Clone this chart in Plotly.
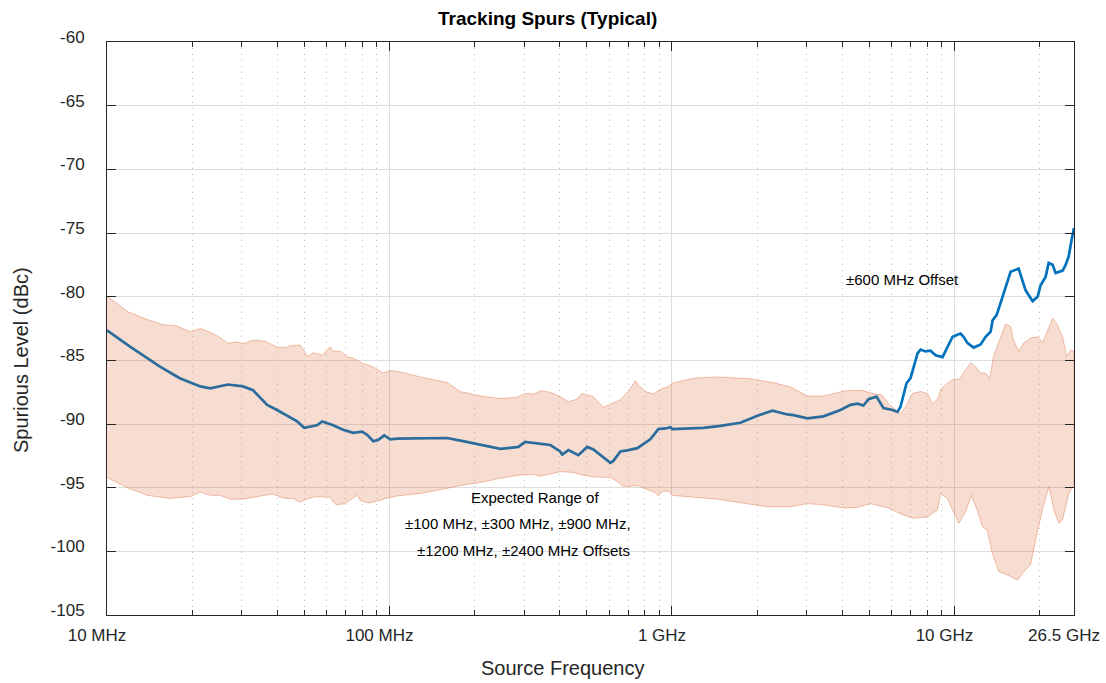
import plotly.graph_objects as go

# ---- data (frequency in MHz, level in dBc) ----
line_freq = [10, 12.1, 15.4, 18.1, 21.4, 23.2, 26.8, 30.3, 32.9, 36.9, 40.0, 43.4, 47.1, 49.9,
             55.4, 57.8, 61.7, 63.2, 68.5, 74.4, 80.0, 83.4, 87.6, 91.2, 95.8, 100.6, 106.5,
             128.5, 160, 182, 210, 247, 286, 302, 371, 402, 409, 430, 466, 501, 527, 605, 620,
             657, 701, 754, 838, 895, 948, 987, 1003, 1292, 1484, 1747, 2007, 2268, 2564, 2692,
             3017, 3439, 3950, 4285, 4537, 4764, 4963, 5297, 5608, 6035, 6286, 6443, 6766, 6991,
             7402, 7586, 7902, 8231, 8574, 9077, 9846, 10510, 10770, 11130, 11690, 12380, 12890,
             13430, 13650, 14100, 14810, 15800, 16870, 17860, 18910, 19700, 20180, 21020, 21550,
             22260, 22810, 24150, 24750, 25370, 25980, 26500]
line_level = [-82.65, -83.95, -85.5, -86.4, -87.05, -87.2, -86.9, -87.05, -87.35, -88.5, -88.9,
              -89.35, -89.8, -90.3, -90.1, -89.8, -90.0, -90.1, -90.45, -90.7, -90.6, -90.85,
              -91.35, -91.25, -90.9, -91.2, -91.15, -91.1, -91.1, -91.35, -91.65, -91.95, -91.8,
              -91.4, -91.65, -92.15, -92.4, -92.05, -92.45, -91.8, -92.0, -93.05, -92.9, -92.15,
              -92.05, -91.9, -91.2, -90.4, -90.35, -90.25, -90.4, -90.3, -90.15, -89.9, -89.35,
              -88.95, -89.25, -89.3, -89.55, -89.4, -88.9, -88.5, -88.4, -88.55, -88.05, -87.85,
              -88.75, -88.9, -89.05, -88.65, -86.8, -86.4, -84.45, -84.15, -84.3, -84.25, -84.6,
              -84.75, -83.15, -82.9, -83.15, -83.65, -84.0, -83.75, -83.15, -82.75, -81.85,
              -81.45, -80.0, -78.05, -77.8, -79.5, -80.35, -80.0, -79.1, -78.45, -77.35, -77.5,
              -78.15, -77.95, -77.5, -76.85, -75.55, -74.6]

band_upper_freq = [10, 11.9, 13.9, 15.8, 17.7, 19.7, 21.4, 23.2, 24.7, 26.8, 28.9, 30.3, 32.9,
                   36.3, 40.0, 42.7, 44.5, 48.3, 51.5, 53.7, 57.8, 61.7, 63.2, 66.9, 71.4, 73.8,
                   80.7, 85.4, 90.5, 95.0, 100.6, 109.1, 128.5, 160, 178, 210, 247, 283, 302,
                   323, 342, 371, 402, 430, 461, 480, 527, 572, 605, 657, 701, 742, 760, 805,
                   859, 895, 925, 963, 1003, 1191, 1448, 1895, 2287, 2627, 3017, 3439, 4081,
                   4688, 5212, 5520, 5843, 6443, 6711, 7106, 7586, 8031, 8360, 8711, 8929, 9170,
                   9846, 10366, 10950, 11400, 11880, 12380, 12890, 13320, 13750, 14330, 15170,
                   15800, 16190, 16870, 17570, 18600, 19700, 20520, 21370, 22260, 23000, 24150,
                   24960, 25780, 26500]
band_upper = [-79.95, -81.2, -81.8, -82.2, -82.3, -82.75, -82.5, -82.8, -83.1, -83.65, -83.55,
              -83.7, -83.4, -83.5, -83.95, -84.0, -83.85, -83.8, -84.7, -84.4, -84.6, -83.95,
              -84.3, -84.3, -84.75, -84.8, -85.25, -85.4, -85.7, -86.0, -85.8, -85.9, -86.3,
              -86.75, -87.45, -87.8, -88.0, -87.9, -87.6, -87.65, -87.4, -87.5, -87.85, -88.25,
              -88.05, -87.6, -87.85, -88.7, -88.45, -88.1, -87.45, -86.6, -86.95, -87.45, -87.65,
              -87.4, -87.2, -87.1, -86.8, -86.4, -86.3, -86.45, -86.75, -87.1, -87.8, -87.8,
              -87.4, -87.35, -87.65, -87.7, -88.4, -89.2, -88.65, -87.6, -87.45, -87.6, -88.4,
              -88.05, -87.3, -87.05, -86.5, -86.5, -85.75, -85.2, -85.5, -86.0, -86.0, -86.45,
              -84.7, -83.65, -82.15, -82.35, -83.4, -84.3, -83.65, -83.25, -83.15, -83.6, -82.6,
              -81.7, -82.1, -83.15, -84.7, -84.2, -84.3]

band_lower_freq = [10, 11.9, 13.9, 16.7, 19.7, 21.4, 23.2, 25.1, 27.3, 30.3, 34.0, 38.4, 42.7,
                   45.6, 48.3, 51.1, 54.6, 61.7, 63.2, 64.7, 69.7, 73.8, 76.9, 78.8, 84.1, 92.7,
                   96.6, 106.5, 128.5, 160, 182, 210, 247, 292, 323, 342, 402, 409, 447, 480,
                   527, 605, 639, 673, 754, 818, 873, 895, 925, 971, 1003, 1191, 1448, 1895,
                   2178, 2627, 3017, 3439, 4081, 4537, 5046, 5843, 6443, 7106, 8031, 8360, 8711,
                   8929, 9430, 9952, 10366, 10950, 11470, 12040, 12550, 13070, 13610, 14370,
                   15380, 16700, 17610, 18600, 19380, 20470, 21590, 22490, 23430, 24090, 25430,
                   26500]
band_lower = [-94.2, -95.05, -95.6, -95.85, -95.7, -95.35, -95.6, -95.6, -95.9, -95.9, -95.7,
              -95.5, -95.85, -95.85, -96.15, -95.9, -95.7, -95.75, -96.1, -96.35, -96.25, -95.85,
              -95.6, -96.0, -96.2, -96.0, -95.85, -95.65, -95.45, -95.05, -94.8, -94.6, -94.25,
              -94.0, -93.95, -94.1, -93.75, -93.75, -93.8, -94.0, -94.15, -94.2, -94.5, -94.9,
              -94.85, -95.15, -95.4, -95.65, -95.3, -95.25, -95.6, -95.75, -95.9, -96.3, -96.5,
              -96.5, -96.25, -96.35, -96.6, -96.55, -96.25, -96.6, -97.05, -97.4, -97.3, -97.0,
              -96.75, -95.45, -95.85, -97.0, -97.8, -96.9, -95.6, -96.75, -98.05, -98.35,
              -100.15, -101.6, -101.85, -102.25, -101.6, -101.05, -99.1, -96.75, -94.9, -96.75,
              -97.8, -97.55, -95.45, -94.65]

x_major_vals = [10, 100, 1000, 10000, 26500]
x_major_text = ["10 MHz", "100 MHz", "1 GHz", "10 GHz", "26.5 GHz"]
x_minor_vals = [20, 30, 40, 50, 60, 70, 80, 90, 200, 300, 400, 500, 600, 700, 800, 900,
                2000, 3000, 4000, 5000, 6000, 7000, 8000, 9000, 20000]
y_tick_vals = [-105, -100, -95, -90, -85, -80, -75, -70, -65, -60]
y_tick_text = ["-105", "-100", "-95", "-90", "-85", "-80", "-75", "-70", "-65", "-60"]

FONT = "Liberation Sans, Arial, sans-serif"
AX = "#262626"

fig = go.Figure()
fig.add_trace(go.Scatter(x=line_freq, y=line_level, mode="lines",
                         line=dict(color="#0072BD", width=2.7), showlegend=False,
                         hoverinfo="skip"))
band_x = band_upper_freq + band_lower_freq[::-1]
band_y = band_upper + band_lower[::-1]
fig.add_trace(go.Scatter(x=band_x, y=band_y, mode="lines", fill="toself",
                         fillcolor="rgba(217,83,25,0.2)",
                         line=dict(color="rgba(217,83,25,0.35)", width=1),
                         showlegend=False, hoverinfo="skip"))

fig.update_layout(
    width=1106, height=683,
    margin=dict(l=107, r=32, t=42, b=68),
    paper_bgcolor="white", plot_bgcolor="white",
    font=dict(family=FONT, color=AX),
    showlegend=False,
)
fig.update_xaxes(
    type="log", range=[1, 4.4232], tickvals=x_major_vals, ticktext=x_major_text,
    automargin=False,
    ticks="inside", ticklen=9, tickcolor=AX, tickwidth=1,
    showgrid=True, gridcolor="#dddddd", gridwidth=1,
    showline=True, linecolor=AX, linewidth=1, mirror="ticks",
    tickfont=dict(size=17, family=FONT, color=AX),
    ticklabelshift=-10, ticklabelstandoff=5,
    minor=dict(tickvals=x_minor_vals, ticks="inside", ticklen=5, tickcolor=AX,
               showgrid=True, gridcolor="#c4c4c4", griddash="1px,5px", gridwidth=1),
    zeroline=False,
)
fig.update_yaxes(
    range=[-105, -60], tickvals=y_tick_vals, ticktext=y_tick_text,
    automargin=False,
    ticks="inside", ticklen=9, tickcolor=AX, tickwidth=1,
    showgrid=True, gridcolor="#dddddd", gridwidth=1,
    showline=True, linecolor=AX, linewidth=1, mirror="ticks",
    tickfont=dict(size=17, family=FONT, color=AX),
    ticklabelstandoff=18, ticklabelshift=-5,
    zeroline=False,
)

fig.add_annotation(text="<b>Tracking Spurs (Typical)</b>", xref="paper", yref="paper",
                   x=(547 - 107) / 967, y=1 + (42 - 19) / 573, showarrow=False,
                   font=dict(size=19, family=FONT, color="black"),
                   xanchor="center", yanchor="middle")
fig.add_annotation(text="Source Frequency", xref="paper", yref="paper",
                   x=(562 - 107) / 967, y=-(668 - 615) / 573, showarrow=False,
                   font=dict(size=20, family=FONT, color=AX),
                   xanchor="center", yanchor="middle")
fig.add_annotation(text="Spurious Level (dBc)", xref="paper", yref="paper",
                   x=-(107 - 21) / 967, y=(615 - 360) / 573, showarrow=False, textangle=-90,
                   font=dict(size=20, family=FONT, color=AX),
                   xanchor="center", yanchor="middle")

ann_font = dict(size=15, family=FONT, color="black")
fig.add_annotation(text="±600 MHz Offset", x=3.816, y=-78.69, xref="x", yref="y",
                   showarrow=False, font=ann_font, xanchor="center", yanchor="middle")
fig.add_annotation(text="Expected Range of", x=2.516, y=-95.81, xref="x", yref="y",
                   showarrow=False, font=ann_font, xanchor="center", yanchor="middle")
fig.add_annotation(text="±100 MHz, ±300 MHz, ±900 MHz,", x=2.454, y=-97.85, xref="x", yref="y",
                   showarrow=False, font=ann_font, xanchor="center", yanchor="middle")
fig.add_annotation(text="±1200 MHz, ±2400 MHz Offsets", x=2.474, y=-99.9, xref="x", yref="y",
                   showarrow=False, font=ann_font, xanchor="center", yanchor="middle")

fig.write_html("out.html", config={"displayModeBar": False},
               post_script="document.body.style.margin='0';document.body.style.padding='0';")
